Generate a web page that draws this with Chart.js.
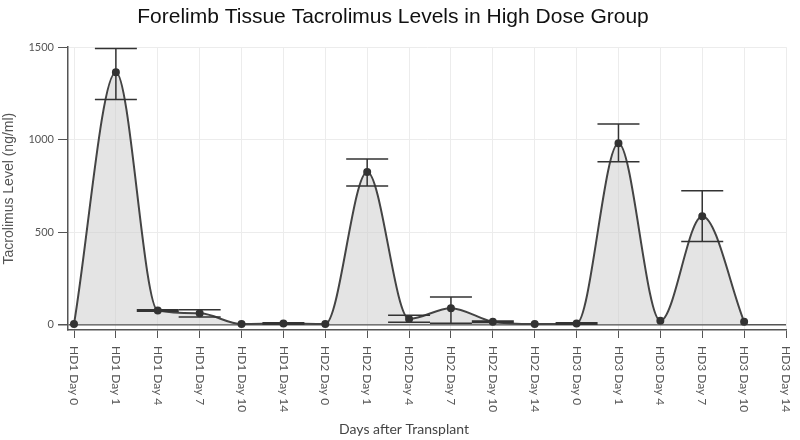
<!DOCTYPE html>
<html>
<head>
<meta charset="utf-8">
<script src="https://cdn.jsdelivr.net/npm/chart.js@4"></script>
<style>
  html, body { margin: 0; padding: 0; background: #fff; }
  #wrap { width: 800px; height: 440px; }
</style>
</head>
<body>
<div id="wrap"><canvas id="myChart" width="800" height="440"></canvas></div>
<script>
// data
const labels = [
    'HD1 Day 0', 'HD1 Day 1', 'HD1 Day 4', 'HD1 Day 7', 'HD1 Day 10', 'HD1 Day 14',
    'HD2 Day 0', 'HD2 Day 1', 'HD2 Day 4', 'HD2 Day 7', 'HD2 Day 10', 'HD2 Day 14',
    'HD3 Day 0', 'HD3 Day 1', 'HD3 Day 4', 'HD3 Day 7', 'HD3 Day 10', 'HD3 Day 14'
];
const levels   = [2, 1365, 75, 60, 2, 5, 2, 825, 30, 88, 15, 2, 5, 980, 20, 586, 15, null];
const errUpper = [0, 128, 4, 20, 0, 4, 0, 70, 20, 61, 4, 0, 4, 105, 0, 137, 0, 0];
const errLower = [0, 148, 4, 20, 0, 4, 0, 76, 18, 82, 4, 0, 4, 100, 0, 137, 0, 0];
const yTicks = [0, 500, 1000, 1500];

const gray = '#555';
const font = "Lato, 'Open Sans', sans-serif";

// error bars drawn through the chart's scales
const errorBars = {
    id: 'errorBars',
    afterDatasetsDraw(chart) {
        const {ctx, scales: {x, y}} = chart;
        ctx.save();
        ctx.strokeStyle = '#333';
        ctx.lineWidth = 1.5;
        levels.forEach((v, i) => {
            if (v === null || (!errUpper[i] && !errLower[i])) return;
            const px = x.getPixelForValue(i);
            const top = y.getPixelForValue(v + errUpper[i]);
            const bot = y.getPixelForValue(Math.max(v - errLower[i], 0));
            ctx.beginPath();
            ctx.moveTo(px, top); ctx.lineTo(px, bot);
            ctx.moveTo(px - 21, top); ctx.lineTo(px + 21, top);
            ctx.moveTo(px - 21, bot); ctx.lineTo(px + 21, bot);
            ctx.stroke();
        });
        ctx.restore();
    }
};

// x labels read top-to-bottom (rotated clockwise), plus the x title
const xLabels = {
    id: 'xLabels',
    afterDraw(chart) {
        const {ctx, scales: {x}, chartArea} = chart;
        ctx.save();
        ctx.fillStyle = gray;
        ctx.font = '12px ' + font;
        ctx.textAlign = 'left';
        ctx.textBaseline = 'middle';
        labels.forEach((l, i) => {
            ctx.save();
            ctx.translate(x.getPixelForValue(i), chartArea.bottom + 16);
            ctx.rotate(Math.PI / 2);
            ctx.fillText(l, 0, 0);
            ctx.restore();
        });
        ctx.fillStyle = '#444';
        ctx.font = '14px ' + font;
        ctx.textAlign = 'center';
        ctx.fillText('Days after Transplant', 404, 429);
        ctx.restore();
    }
};

const ctx = document.getElementById('myChart').getContext('2d');
const chart = new Chart(ctx, {
    type: 'line',
    data: {
        datasets: [{
            data: levels.map((v, i) => ({x: i, y: v})),
            borderColor: '#444',
            borderWidth: 2,
            backgroundColor: 'rgba(205,205,205,0.55)',
            fill: 'origin',
            cubicInterpolationMode: 'monotone',
            pointRadius: 3,
            pointBackgroundColor: '#333',
            pointBorderColor: '#333',
            spanGaps: false
        }]
    },
    options: {
        responsive: false,
        animation: false,
        layout: { padding: { left: 0, right: 14, top: 0, bottom: 0 } },
        plugins: {
            legend: { display: false },
            tooltip: { enabled: false },
            title: {
                display: true,
                text: 'Forelimb Tissue Tacrolimus Levels in High Dose Group',
                color: '#111',
                font: { family: "'Liberation Sans', Arial, sans-serif", size: 21, weight: 'normal' },
                padding: { top: 5, bottom: 17 }
            }
        },
        scales: {
            x: {
                type: 'linear',
                min: -0.1433,
                max: 17,
                afterFit(scale) { scale.height = 110; },
                afterBuildTicks(scale) {
                    scale.ticks = labels.map((l, i) => ({value: i}));
                },
                ticks: { display: false, stepSize: 1, includeBounds: false },
                grid: { color: '#ececec', tickColor: gray, tickLength: 8, drawOnChartArea: true },
                border: { color: gray, width: 1.5 }
            },
            y: {
                min: -30,
                max: 1500,
                afterFit(scale) { scale.width = 68; },
                afterBuildTicks(scale) {
                    scale.ticks = yTicks.map(v => ({value: v}));
                },
                ticks: {
                    color: gray,
                    font: { family: font, size: 11 },
                    padding: 4,
                    includeBounds: false,
                    callback: v => String(v)
                },
                grid: {
                    color: c => (c.tick && c.tick.value === 0) ? '#555' : '#ececec',
                    lineWidth: c => (c.tick && c.tick.value === 0) ? 1.5 : 1,
                    tickColor: gray,
                    tickLength: 10
                },
                border: { color: gray, width: 1.5 },
                title: {
                    display: true,
                    text: 'Tacrolimus Level (ng/ml)',
                    color: gray,
                    font: { family: "'Liberation Sans', Arial, sans-serif", size: 14 },
                    padding: { top: 1, bottom: 2 }
                }
            }
        }
    },
    plugins: [errorBars, xLabels]
});
console.log("Loaded");
</script>
</body>
</html>
